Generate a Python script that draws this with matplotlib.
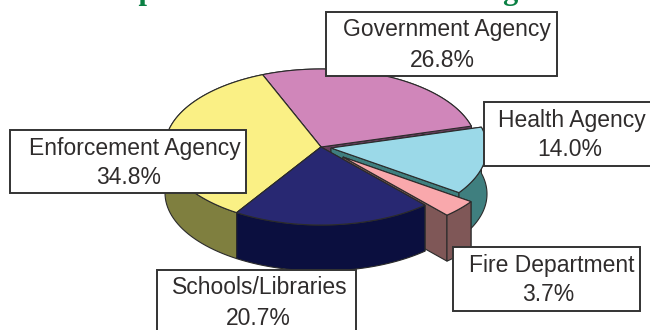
import numpy as np
import matplotlib
matplotlib.use("Agg")
import matplotlib.pyplot as plt
from matplotlib.patches import Polygon, Rectangle

labels = ["Government Agency", "Health Agency", "Fire Department", "Schools/Libraries", "Enforcement Agency"]
shares = [26.8, 14.0, 3.7, 20.7, 34.8]
top_colors = ["#D086BA", "#9BD9E8", "#F9A8AC", "#282872", "#FAF085"]
side_colors = ["#683D5D", "#3F7F7F", "#7F5757", "#0B0F3F", "#7F7F3F"]

# pie geometry, in pixels
cx, cy = 321, 147
rx, ry = 156, 78
depth = 46
start_angle = 112
offsets = [(0, 0), (10, 1), (22, 10), (0, 0), (0, 0)]
draw_order = [0, 4, 1, 2, 3]

# left, top, right, bottom, name x, percent x, name baseline, percent baseline
boxes = [
    (326, 12, 557, 76, 447, 442, 36, 67),
    (484, 102, 660, 166, 572, 570, 127, 156),
    (453, 247, 640, 311, 552, 548, 272, 301),
    (157, 270, 356, 340, 260, 258, 294, 325),
    (10, 130, 246, 193, 135, 129, 155, 184),
]

edge = "#2b2b2b"
text_color = "#2f2c2c"
green = "#0A8043"


def arc(a0, a1, dx, dy):
    t = np.radians(np.linspace(a0, a1, 60))
    return np.column_stack((cx + dx + rx * np.cos(t), cy + dy - ry * np.sin(t)))


def draw_slice(ax, a0, a1, dx, dy, top, side):
    apex = np.array([cx + dx, cy + dy])
    rim = arc(a0, a1, dx, dy)
    drop = np.array([0, depth])
    # radial walls first, the outer wall goes over them
    for p in (rim[0], rim[-1]):
        ax.add_patch(Polygon([apex, p, p + drop, apex + drop], fc=side, ec=edge, lw=0.8))
    ax.add_patch(Polygon(np.vstack((rim, (rim + drop)[::-1])), fc=side, ec=edge, lw=0.8))
    ax.add_patch(Polygon(np.vstack((apex, rim)), fc=top, ec=edge, lw=0.8))


fig = plt.figure(figsize=(6.5, 3.3), dpi=100)
ax = fig.add_axes([0, 0, 1, 1])
ax.set_xlim(0, 650)
ax.set_ylim(330, 0)
ax.axis("off")

sweeps = np.array(shares) / sum(shares) * 360
ends = start_angle - np.cumsum(sweeps)
starts = ends + sweeps

# back slices first so the front ones cover them
for i in draw_order:
    draw_slice(ax, starts[i], ends[i], offsets[i][0], offsets[i][1], top_colors[i], side_colors[i])

for name, share, box in zip(labels, shares, boxes):
    left, top, right, bottom, name_x, pct_x, name_y, pct_y = box
    ax.add_patch(Rectangle((left, top), right - left, bottom - top, fc="white", ec="#333333", lw=1.4, zorder=5))
    ax.text(name_x, name_y, name, ha="center", va="baseline", fontsize=16.5, family="Liberation Sans", color=text_color, zorder=6)
    ax.text(pct_x, pct_y, f"{share:.1f}%", ha="center", va="baseline", fontsize=16.5, family="Liberation Sans", color=text_color, zorder=6)

ax.text(91, -1.5, "Respondents from the Local Organization", ha="left", va="baseline", fontsize=22,
        family="Liberation Serif", weight="bold", color=green)

fig.savefig("out.png", dpi=100)
